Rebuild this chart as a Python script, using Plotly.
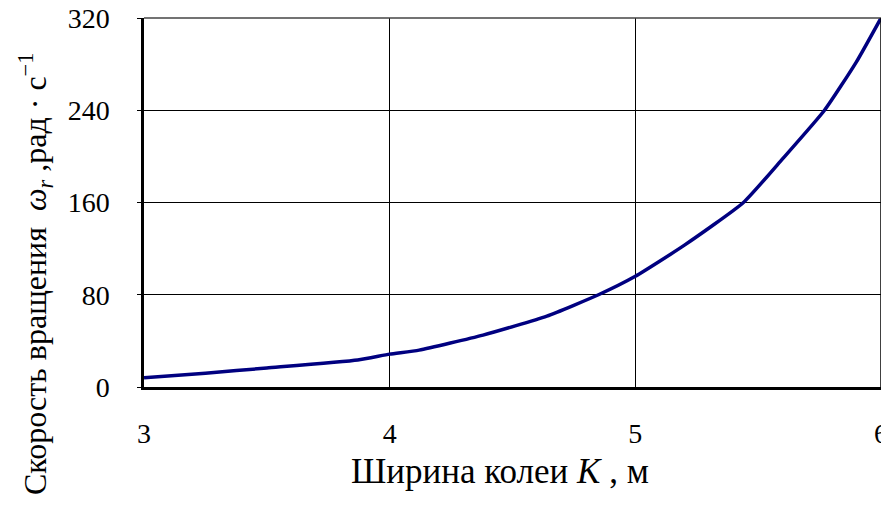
import plotly.graph_objects as go

track_width = [3.0, 3.25, 3.5, 3.87, 4.0, 4.12, 4.38, 4.64, 4.85, 5.0, 5.2, 5.44, 5.6, 5.77, 5.9, 6.0]
rot_speed = [8, 12, 16.5, 23.5, 28.5, 32, 45, 61.5, 80, 96, 123, 160, 198, 240, 282, 320]
x_ticks = [3, 4, 5, 6]
y_ticks = [0, 80, 160, 240, 320]

FONT = "Liberation Serif, Times New Roman, serif"

fig = go.Figure()
fig.add_trace(go.Scatter(x=track_width, y=rot_speed, mode="lines",
                         line=dict(color="#000080", width=3.5, shape="spline", smoothing=0.5),
                         showlegend=False, cliponaxis=False))

fig.update_layout(
    width=881, height=490,
    margin=dict(l=136, r=8, t=10, b=111),
    plot_bgcolor="white", paper_bgcolor="white",
    font=dict(family=FONT, size=28, color="black"),
    xaxis=dict(range=[3, 6], tickvals=x_ticks, showgrid=True, gridcolor="black", gridwidth=1,
               showline=True, linecolor="black", linewidth=2.5, ticks="",
               zeroline=False, tickfont=dict(size=28, family=FONT),
               automargin=False, ticklabelstandoff=20, ticklabeloverflow="allow"),
    yaxis=dict(range=[0, 320], tickvals=y_ticks, showgrid=True, gridcolor="black", gridwidth=1,
               showline=True, linecolor="black", linewidth=2.5, ticks="outside", ticklen=4,
               tickcolor="black", zeroline=False, tickfont=dict(size=28, family=FONT),
               automargin=False, ticklabelstandoff=22, ticklabeloverflow="allow"),
    shapes=[
        dict(type="line", xref="paper", yref="paper", x0=0, x1=1, y0=1, y1=1,
             line=dict(color="#444444", width=1.5)),
        dict(type="line", xref="paper", yref="paper", x0=1, x1=1, y0=0, y1=1,
             line=dict(color="black", width=1.5)),
    ],
    annotations=[
        dict(text="Ширина колеи <i>K</i> , м", xref="paper", yref="paper", x=0.483, y=-0.23,
             xanchor="center", yanchor="middle", showarrow=False, font=dict(size=35, family=FONT)),
        dict(text="Скорость вращения  <i>ω<sub>r</sub></i> ,рад · с<sup>−1</sup>", xref="paper", yref="paper",
             x=-0.148, y=0.306, xanchor="center", yanchor="middle", textangle=-90, showarrow=False,
             font=dict(size=32, family=FONT)),
    ],
)
fig.write_html("out.html")
